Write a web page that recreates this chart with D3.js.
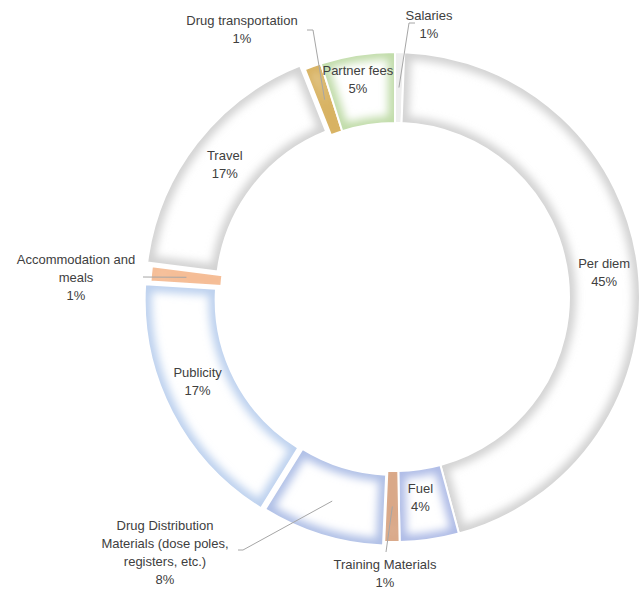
<!doctype html>
<html lang="en">
  <head>
    <meta charset="UTF-8" />
    <title>Budget breakdown donut</title>
    <script src="https://d3js.org/d3.v7.min.js"></script>
    <style>
      body {
        margin: 0;
        padding: 0;
        background: #fff;
      }
      text {
        font-family: 'Liberation Sans', Arial, sans-serif;
        font-size: 13px;
        fill: #404040;
      }
      .leader {
        fill: none;
        stroke: #a6a6a6;
        stroke-width: 1px;
      }
    </style>
  </head>
  <body>
    <svg id="chart" width="641" height="590"></svg>

    <script>
      // slices clockwise from 12 o'clock
      const categories = [
        'Salaries',
        'Per diem',
        'Fuel',
        'Training Materials',
        'Drug Distribution Materials  (dose poles, registers, etc.)',
        'Publicity',
        'Accommodation and meals',
        'Travel',
        'Drug transportation',
        'Partner fees',
      ];
      const values = [0.6, 45.2, 3.9, 1.0, 8.1, 17.2, 1.0, 17.0, 1.1, 4.9];
      // how each label's name is broken into lines
      const labelLines = [
        ['Salaries'],
        ['Per diem'],
        ['Fuel'],
        ['Training Materials'],
        ['Drug Distribution', 'Materials  (dose poles,', 'registers, etc.)'],
        ['Publicity'],
        ['Accommodation and', 'meals'],
        ['Travel'],
        ['Drug transportation'],
        ['Partner fees'],
      ];

      const colors = [
        '#eeeeee',
        '#d2d2d2',
        '#aebbe6',
        '#d9a888',
        '#afbfe6',
        '#bcd0ee',
        '#f5bd96',
        '#d2d2d2',
        '#d8b262',
        '#c0dba8',
      ];

      const width = 641;
      const height = 590;
      const cx = 395;
      const cy = 297;
      const outerR = 245;
      const innerR = 174;
      const midR = (outerR + innerR) / 2;
      const lineH = 18;

      // small outward shift of some slices
      const explode = { 4: 4, 5: 6, 7: 6 };

      // outside labels: centre of text block, start of leader, stub
      const outside = {
        0: { x: 429, y: 25, sx: 415, sy: 23, stub: -6 },
        3: { x: 385, y: 574, sx: 386, sy: 552, stub: 0 },
        4: { x: 165, y: 553, sx: 238, sy: 550, stub: 5 },
        6: { x: 76, y: 278, sx: 143, sy: 277, stub: 0 },
        8: { x: 242, y: 30, sx: 307, sy: 30, stub: 6 },
      };
      // nudges for inside labels
      const nudge = { 1: [1, 0], 2: [-4, -6], 5: [-6, -14], 9: [-5, -10] };

      const svg = d3
        .select('#chart')
        .attr('width', width)
        .attr('height', height);

      const defs = svg.append('defs');
      defs
        .append('filter')
        .attr('id', 'glow')
        .attr('filterUnits', 'userSpaceOnUse')
        .attr('x', -400)
        .attr('y', -400)
        .attr('width', 800)
        .attr('height', 800)
        .append('feGaussianBlur')
        .attr('stdDeviation', 4);

      const pie = d3.pie().sort(null).value((d) => d);
      const arc = d3.arc().innerRadius(innerR).outerRadius(outerR);
      const slices = pie(values);
      const total = d3.sum(values);

      const g = svg
        .append('g')
        .attr('transform', `translate(${cx},${cy})`);

      function offset(d, r) {
        const a = (d.startAngle + d.endAngle) / 2;
        return [Math.sin(a) * r, -Math.cos(a) * r];
      }

      slices.forEach(function (d, i) {
        const [ex, ey] = offset(d, explode[i] || 0);
        const p = arc(d);
        const sg = g
          .append('g')
          .attr('transform', `translate(${ex},${ey})`);

        defs
          .append('clipPath')
          .attr('id', 'clip' + i)
          .append('path')
          .attr('d', p);

        sg.append('path').attr('d', p).attr('fill', '#fff');

        sg.append('g')
          .attr('clip-path', `url(#clip${i})`)
          .append('path')
          .attr('d', p)
          .attr('fill', 'none')
          .attr('stroke', colors[i])
          .attr('stroke-width', 14)
          .attr('filter', 'url(#glow)');

        sg.append('path')
          .attr('d', p)
          .attr('fill', 'none')
          .attr('stroke', '#fff')
          .attr('stroke-width', 2);
      });

      // labels
      slices.forEach(function (d, i) {
        const pct = Math.round((d.value / total) * 100) + '%';
        const lines = labelLines[i].concat([pct]);
        const [ex, ey] = offset(d, explode[i] || 0);
        const [mx, my] = offset(d, midR);
        let tx, ty;

        if (outside[i]) {
          const o = outside[i];
          tx = o.x - cx;
          ty = o.y - cy;
          const sx = o.sx - cx;
          const sy = o.sy - cy;
          const pts = [[sx, sy]];
          if (o.stub) pts.push([sx + o.stub, sy]);
          pts.push([mx + ex, my + ey]);
          g.append('path')
            .attr('class', 'leader')
            .attr('d', d3.line()(pts));
        } else {
          const n = nudge[i] || [0, 0];
          tx = mx + ex + n[0];
          ty = my + ey + n[1];
        }

        const t = g
          .append('text')
          .attr('text-anchor', 'middle')
          .attr('x', tx)
          .attr('y', ty - ((lines.length - 1) * lineH) / 2 + 4);
        lines.forEach(function (s, k) {
          t.append('tspan')
            .attr('x', tx)
            .attr('dy', k === 0 ? 0 : lineH)
            .text(s);
        });
      });
    </script>
  </body>
</html>
